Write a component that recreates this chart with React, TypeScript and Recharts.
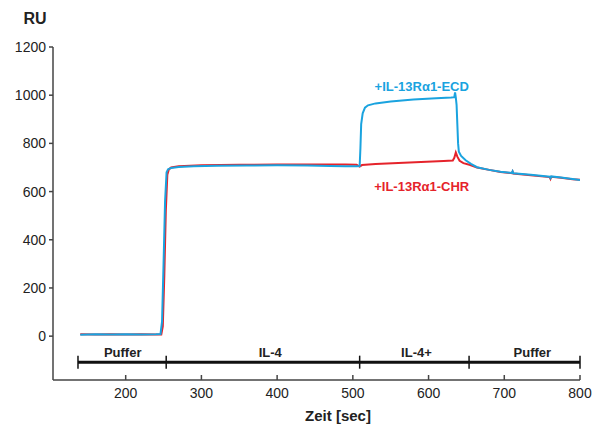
import React from 'react';
import { LineChart, Line, XAxis, YAxis, ReferenceLine, ReferenceDot } from 'recharts';

// sensorgram, time in sec
const ecdTime = [140, 160, 180, 200, 220, 240, 246, 248, 250, 252, 254, 256, 260, 270, 290, 320, 360, 400, 440, 470, 490, 505, 509, 510, 511, 513, 516, 520, 530, 550, 580, 610, 630, 634, 635, 636, 637, 638, 639, 640, 643, 649, 656, 664, 680, 695, 710, 711, 712, 735, 760, 761, 762, 775, 790, 800];
const ecdValues = [6, 8, 7, 8, 7, 8, 9, 60, 300, 560, 680, 693, 698, 702, 705, 707, 708, 709, 708, 706, 705, 705, 706, 780, 880, 925, 948, 958, 966, 974, 982, 987, 990, 992, 1012, 990, 960, 880, 800, 765, 748, 730, 715, 701, 690, 682, 677, 684, 676, 670, 662, 656, 663, 658, 652, 648];

const chrTime = [140, 160, 180, 200, 220, 240, 247, 249, 251, 253, 255, 257, 260, 270, 300, 350, 400, 450, 490, 505, 509, 512, 530, 560, 590, 620, 632, 634, 636, 638, 641, 646, 655, 664, 680, 695, 710, 711, 712, 735, 760, 761, 762, 775, 790, 800];
const chrValues = [8, 7, 8, 7, 8, 7, 7, 40, 250, 520, 670, 692, 700, 705, 709, 711, 712, 712, 712, 711, 704, 710, 714, 719, 723, 727, 729, 740, 762, 745, 728, 718, 710, 700, 690, 681, 676, 683, 675, 668, 660, 653, 661, 657, 651, 649];

const xTicks = [200, 300, 400, 500, 600, 700, 800];
const yTicks = [0, 200, 400, 600, 800, 1000, 1200];

// injection phases
const phaseBounds = [137, 253.5, 509, 653.5, 800];
const phaseNames = ['Puffer', 'IL-4', 'IL-4+', 'Puffer'];
const phaseLabelX = [196, 391, 584, 737];
const phaseY = -108;
const phaseLabelY = -69;

const seriesLabels = [
  { name: '+IL-13R\u03b11-ECD', x: 591, y: 1037, color: '#1aa3df' },
  { name: '+IL-13R\u03b11-CHR', x: 591, y: 622, color: '#e5232b' },
];

const ecdData = ecdTime.map((t, i) => ({ t, v: ecdValues[i] }));
const chrData = chrTime.map((t, i) => ({ t, v: chrValues[i] }));

const font = '"Liberation Sans", Arial, sans-serif';
const narrow = '"Liberation Sans Narrow", "Liberation Sans", Arial, sans-serif';

export default function App() {
  return (
    <div style={{ position: 'absolute', left: 0, top: 0, width: 594, height: 425, background: '#fff' }}>
      <LineChart width={594} height={425} margin={{ top: 47, right: 14, left: 0, bottom: 0 }}>
        <XAxis
          type="number"
          dataKey="t"
          domain={[104, 800]}
          ticks={xTicks}
          allowDataOverflow
          height={45}
          stroke="#444"
          strokeWidth={1.5}
          tickSize={-5}
          tickMargin={13}
          tick={{ fill: '#222', fontSize: 14, fontFamily: font }}
          label={(props: any) => (
            <text x={338} y={421} textAnchor="middle" fontFamily={narrow} fontWeight="bold" fontSize={15} fill="#222">
              Zeit [sec]
            </text>
          )}
        />
        <YAxis
          type="number"
          domain={[-182, 1200]}
          ticks={yTicks}
          allowDataOverflow
          width={53}
          stroke="#444"
          strokeWidth={1.5}
          tickSize={4}
          tickMargin={3}
          tick={{ fill: '#222', fontSize: 14, fontFamily: font }}
          label={(props: any) => (
            <text x={35} y={24} textAnchor="middle" fontFamily={narrow} fontWeight="bold" fontSize={16} fill="#222">
              RU
            </text>
          )}
        />
        {phaseBounds.slice(0, -1).map((b, i) => (
          <ReferenceLine
            key={'seg' + i}
            segment={[{ x: b, y: phaseY }, { x: phaseBounds[i + 1], y: phaseY }]}
            stroke="#111"
            strokeWidth={3}
          />
        ))}
        {phaseBounds.map((b, i) => (
          <ReferenceLine
            key={'end' + i}
            segment={[{ x: b, y: phaseY - 27 }, { x: b, y: phaseY + 27 }]}
            stroke="#111"
            strokeWidth={1.5}
          />
        ))}
        {phaseNames.map((n, i) => (
          <ReferenceDot
            key={'pl' + i}
            x={phaseLabelX[i]}
            y={phaseLabelY}
            r={0}
            stroke="none"
            fill="none"
            label={{ value: n, position: 'center', fontFamily: font, fontWeight: 'bold', fontSize: 13, fill: '#222' }}
          />
        ))}
        <Line data={chrData} dataKey="v" type="linear" stroke="#e5232b" strokeWidth={2} dot={false} isAnimationActive={false} />
        <Line data={ecdData} dataKey="v" type="linear" stroke="#1aa3df" strokeWidth={2} dot={false} isAnimationActive={false} />
        {seriesLabels.map((s) => (
          <ReferenceDot
            key={s.name}
            x={s.x}
            y={s.y}
            r={0}
            stroke="none"
            fill="none"
            label={{ value: s.name, position: 'center', fontFamily: font, fontWeight: 'bold', fontSize: 13, fill: s.color }}
          />
        ))}
      </LineChart>
    </div>
  );
}
